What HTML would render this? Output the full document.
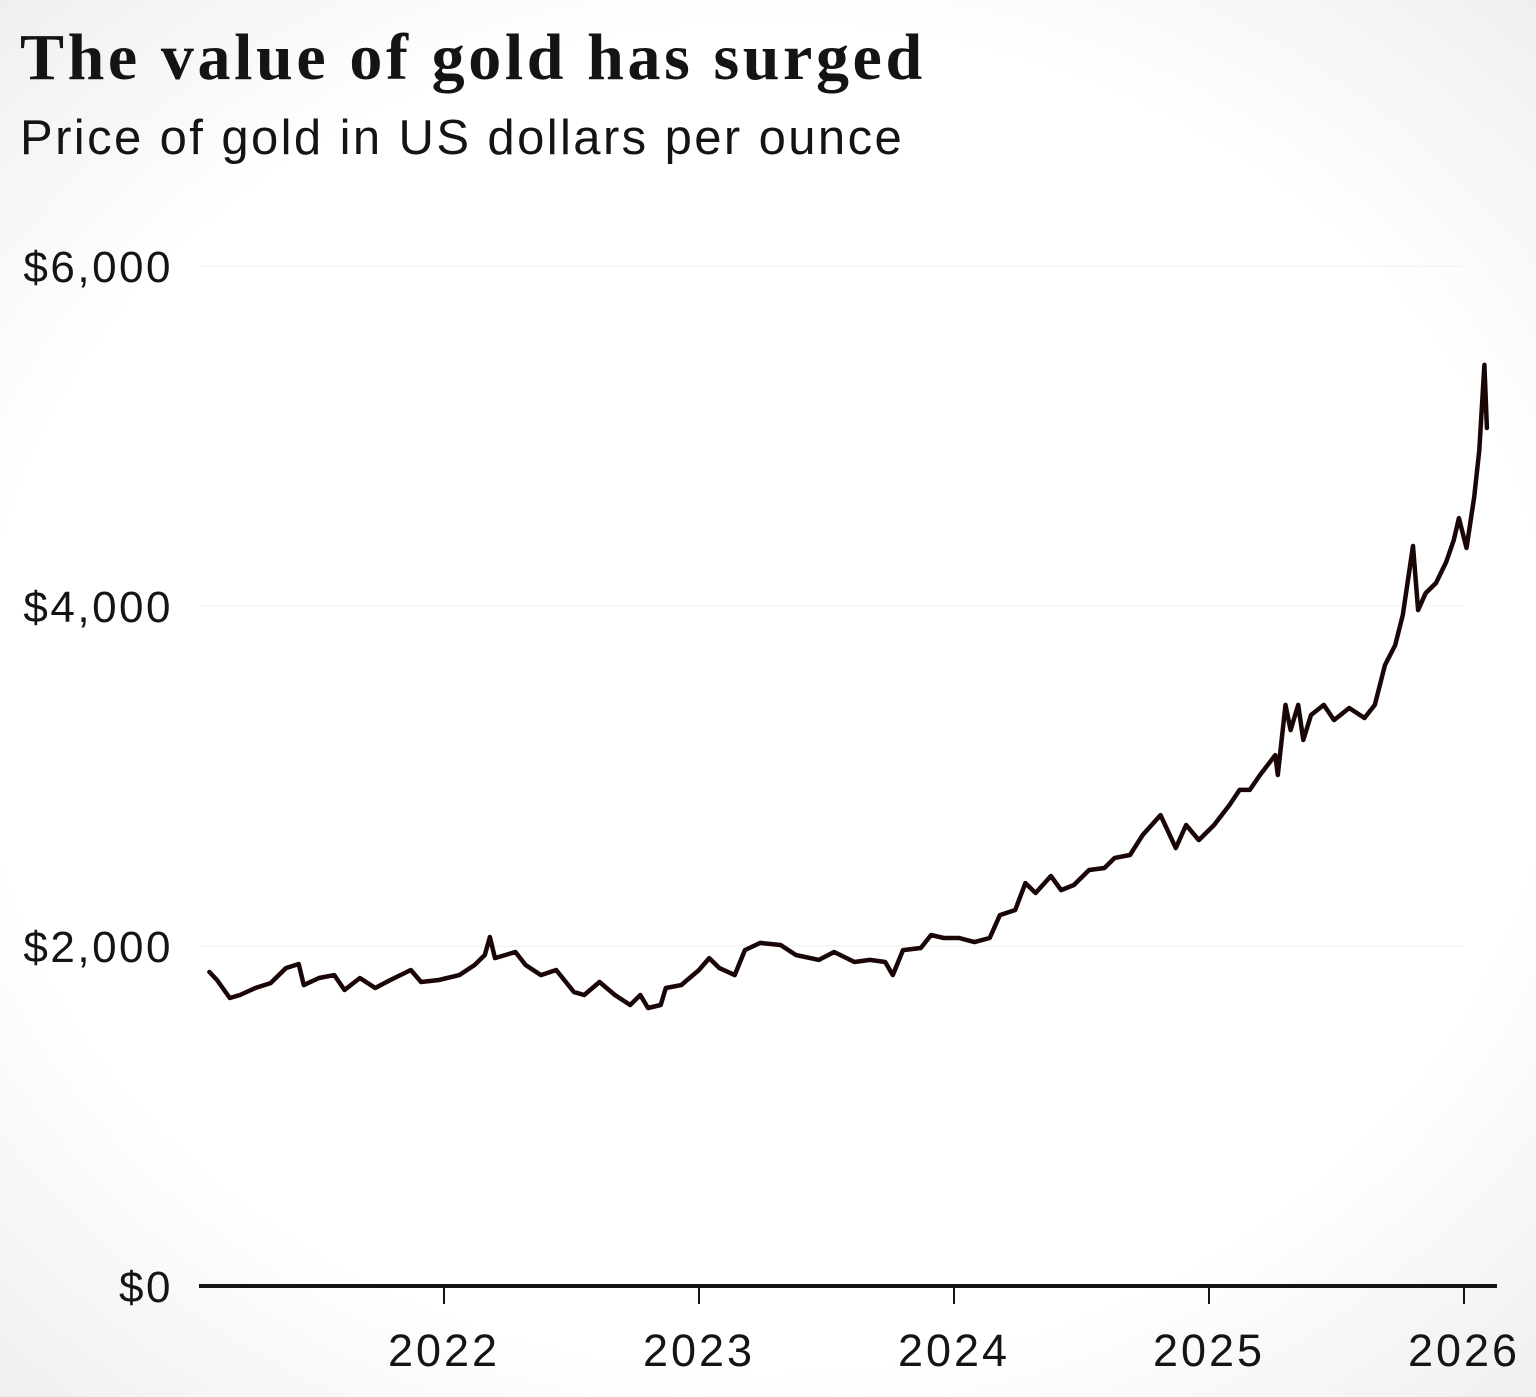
<!DOCTYPE html>
<html><head><meta charset="utf-8">
<style>
html,body{margin:0;padding:0;}
body{width:1536px;height:1397px;overflow:hidden;background:radial-gradient(ellipse 85% 80% at 50% 50%,#ffffff 60%,#e6e6e6 100%);font-family:"Liberation Sans",sans-serif;position:relative;}
#title{position:absolute;left:20px;top:20px;font-family:"Liberation Serif",serif;font-weight:bold;font-size:66px;color:#141414;margin:0;letter-spacing:3.6px;white-space:nowrap;}
#subtitle{position:absolute;left:20px;top:110px;font-size:49px;color:#141414;margin:0;letter-spacing:2.4px;white-space:nowrap;}
svg{position:absolute;left:0;top:0;}
</style></head><body>
<h1 id="title">The value of gold has surged</h1>
<p id="subtitle">Price of gold in US dollars per ounce</p>
<svg id="chart" width="1536" height="1397"></svg>
<script>
const dates=[2021.08,2021.11,2021.16,2021.20,2021.26,2021.32,2021.38,2021.43,2021.45,2021.51,2021.57,2021.61,2021.67,2021.73,2021.79,2021.87,2021.91,2021.98,2022.06,2022.12,2022.16,2022.18,2022.20,2022.28,2022.32,2022.38,2022.44,2022.51,2022.55,2022.61,2022.67,2022.73,2022.77,2022.80,2022.85,2022.87,2022.93,2023.00,2023.04,2023.08,2023.14,2023.18,2023.24,2023.32,2023.38,2023.47,2023.53,2023.61,2023.67,2023.73,2023.76,2023.80,2023.87,2023.91,2023.96,2024.02,2024.08,2024.14,2024.18,2024.24,2024.28,2024.32,2024.38,2024.42,2024.47,2024.53,2024.59,2024.63,2024.69,2024.74,2024.81,2024.87,2024.91,2024.96,2025.02,2025.08,2025.12,2025.16,2025.20,2025.26,2025.27,2025.30,2025.32,2025.35,2025.37,2025.40,2025.45,2025.49,2025.55,2025.61,2025.65,2025.69,2025.73,2025.76,2025.80,2025.82,2025.85,2025.89,2025.93,2025.96,2025.98,2026.01,2026.04,2026.06,2026.08,2026.09];
const prices=[1847,1800,1694,1712,1753,1782,1870,1894,1770,1812,1829,1741,1812,1753,1800,1859,1788,1800,1829,1888,1947,2053,1929,1965,1888,1829,1859,1729,1712,1788,1712,1653,1712,1635,1653,1753,1770,1859,1929,1870,1829,1976,2018,2006,1947,1918,1965,1906,1918,1906,1829,1976,1988,2065,2047,2047,2023,2047,2182,2212,2370,2312,2412,2329,2359,2447,2459,2518,2535,2653,2770,2576,2712,2623,2712,2829,2918,2918,3006,3123,3006,3418,3270,3418,3212,3359,3418,3329,3400,3341,3418,3653,3770,3947,4353,3976,4076,4135,4259,4388,4517,4341,4641,4917,5418,5047];
const yTicks=[0,2000,4000,6000];
const yTickLabels=["$0","$2,000","$4,000","$6,000"];
const xTicks=[2022,2023,2024,2025,2026];
const xTickLabels=["2022","2023","2024","2025","2026"];

const NS="http://www.w3.org/2000/svg";
const svg=document.getElementById('chart');
const xScale=v=>444+(v-2022)*255;
const yScale=v=>1286-v*0.17;
function mk(tag,attrs){const e=document.createElementNS(NS,tag);for(const k in attrs)e.setAttribute(k,attrs[k]);svg.appendChild(e);return e;}

yTicks.forEach((t,i)=>{
  if(t>0){
    const g=mk('line',{x1:200,x2:1464,y1:yScale(t),y2:yScale(t),stroke:'#f2f2f2','stroke-width':1});
    
    
  }
  const tx=mk('text',{x:173,y:yScale(t)+16,'text-anchor':'end','font-size':44,'letter-spacing':2.5,fill:'#141414','font-family':'Liberation Sans, sans-serif'});
  tx.textContent=yTickLabels[i];
  
  
});
const ax=mk('line',{x1:199,x2:1497,y1:1286,y2:1286,stroke:'#141414','stroke-width':4});


xTicks.forEach((t,i)=>{
  const tk=mk('line',{x1:xScale(t),x2:xScale(t),y1:1286,y2:1304,stroke:'#141414','stroke-width':2});
  
  
  const tx=mk('text',{x:xScale(t),y:1366,'text-anchor':'middle','font-size':45,'letter-spacing':3,fill:'#141414','font-family':'Liberation Sans, sans-serif'});
  tx.textContent=xTickLabels[i];
  
  
});
let d='';
dates.forEach((v,i)=>{d+=(i?'L':'M')+xScale(v).toFixed(1)+','+yScale(prices[i]).toFixed(1);});
const p=mk('path',{d:d,fill:'none',stroke:'#1a0606','stroke-width':4.5,'stroke-linejoin':'round','stroke-linecap':'round'});


</script>
</body></html>
